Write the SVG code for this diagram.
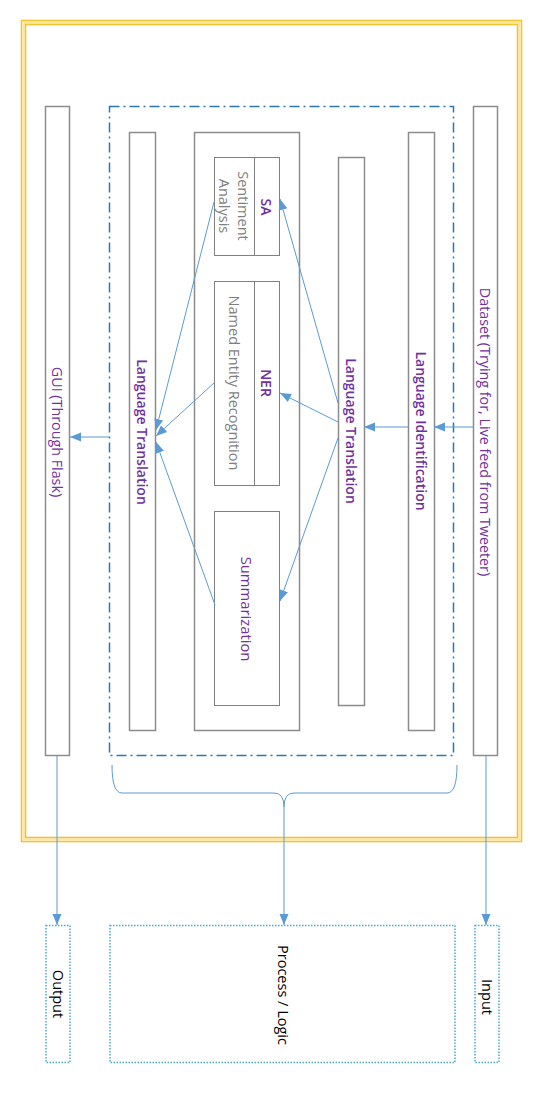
<svg xmlns="http://www.w3.org/2000/svg" width="540" height="1097" viewBox="0 0 540 1097">
<defs>
<marker id="ah" markerUnits="userSpaceOnUse" markerWidth="11" markerHeight="11" viewBox="0 0 11 11" refX="11" refY="5.5" orient="auto">
<path d="M0,1 L11,5.5 L0,10 Z" fill="#5B9BD5"/>
</marker>
<style>
.bar{fill:#fff;stroke:#8C8C8C;stroke-width:1.5}
.conn{fill:none;stroke:#5B9BD5;stroke-width:1;marker-end:url(#ah)}
.t{font-family:"Open Sans","Noto Sans",sans-serif;text-anchor:middle;dominant-baseline:central}
.p{fill:#7030A0;font-size:14.3px}
.pb{fill:#7030A0;font-size:14px;font-weight:600}
.g{fill:#7F7F7F;font-size:14.5px}
.k{fill:#000;font-size:14.5px}
.dot{fill:#fff;stroke:#4BACC6;stroke-width:1.5;stroke-dasharray:1.5 1.5}
</style>
</defs>
<rect width="540" height="1097" fill="#fff"/>
<g id="frame">
<rect x="21.5" y="20.5" width="500" height="821" fill="none" stroke="#F2C230" stroke-width="1.6"/>
<rect x="23.5" y="22.5" width="496" height="817" fill="none" stroke="#FFE699" stroke-width="2"/>
<rect x="25.5" y="24.5" width="492" height="813" fill="none" stroke="#F2C230" stroke-width="1.6"/>
</g>
<g id="process-box">
<rect x="109.5" y="106.5" width="344" height="649" fill="none" stroke="#2E75B6" stroke-width="1.5" stroke-dasharray="10 4 2 4"/>
</g>
<g id="gui">
<rect class="bar" x="45.5" y="106.5" width="24" height="649"/>
<text class="t p" transform="translate(57,432) rotate(90)">GUI (Through Flask)</text>
</g>
<g id="dataset">
<rect class="bar" x="473.5" y="106.5" width="24" height="649"/>
<text class="t p" transform="translate(485,432) rotate(90)">Dataset (Trying for, Live feed from Tweeter)</text>
</g>
<g id="lang-trans-out">
<rect class="bar" x="129.5" y="132.5" width="26" height="598"/>
<text class="t pb" transform="translate(142,432) rotate(90)">Language Translation</text>
</g>
<g id="lang-id">
<rect class="bar" x="408.5" y="132.5" width="26" height="598"/>
<text class="t pb" transform="translate(421,431) rotate(90)">Language Identification</text>
</g>
<g id="lang-trans-in">
<rect class="bar" x="338.5" y="157.5" width="26" height="548"/>
<text class="t pb" transform="translate(351,431) rotate(90)">Language Translation</text>
</g>
<g id="nlp-box">
<rect class="bar" x="194.5" y="132.5" width="105" height="598"/>
</g>
<g id="sa">
<rect x="214.5" y="157.5" width="65" height="98" fill="#fff" stroke="#808080" stroke-width="1"/>
<line x1="254.5" y1="157.5" x2="254.5" y2="255.5" stroke="#808080" stroke-width="1"/>
<text class="t pb" transform="translate(266,207) rotate(90)">SA</text>
<text class="t g" transform="translate(243,206) rotate(90)">Sentiment</text>
<text class="t g" transform="translate(224,206) rotate(90)">Analysis</text>
</g>
<g id="ner">
<rect x="214.5" y="281.5" width="65" height="204" fill="#fff" stroke="#808080" stroke-width="1"/>
<line x1="254.5" y1="281.5" x2="254.5" y2="485.5" stroke="#808080" stroke-width="1"/>
<text class="t pb" transform="translate(266,383) rotate(90)">NER</text>
<text class="t g" transform="translate(234,383) rotate(90)">Named Entity Recognition</text>
</g>
<g id="summarization">
<rect x="214.5" y="511.5" width="65" height="194" fill="#fff" stroke="#808080" stroke-width="1"/>
<text class="t p" style="font-size:14.8px" transform="translate(247,609) rotate(90)">Summarization</text>
</g>
<g id="output">
<rect class="dot" x="46" y="925.5" width="24" height="137"/>
<text class="t k" transform="translate(58,994) rotate(90)">Output</text>
</g>
<g id="process-logic">
<rect class="dot" x="110" y="925.5" width="345" height="137"/>
<text class="t k" transform="translate(283,995) rotate(90)">Process / Logic</text>
</g>
<g id="input">
<rect class="dot" x="475" y="925.5" width="24" height="137"/>
<text class="t k" transform="translate(487,997) rotate(90)">Input</text>
</g>
<g id="connectors">
<path class="conn" d="M473,427 L434,427"/>
<path class="conn" d="M408,427 L364,427"/>
<path class="conn" d="M338,403 L280,199"/>
<path class="conn" d="M338,422 L280,393"/>
<path class="conn" d="M338,438 L280,601"/>
<path class="conn" d="M214,202 L156,430"/>
<path class="conn" d="M214,383 L156,436"/>
<path class="conn" d="M215,605 L156,442"/>
<path class="conn" d="M109,437 L70,437"/>
<path class="conn" d="M57,756 L57,925"/>
<path class="conn" d="M486,756 L486,925"/>
<path fill="none" stroke="#5B9BD5" stroke-width="1" d="M112,765 Q112,793 122,793 L274,793 Q284,793 284,807 Q284,793 294,793 L447,793 Q457,793 457,765"/>
<path class="conn" d="M284,807 L284,925"/>
</g>
</svg>
